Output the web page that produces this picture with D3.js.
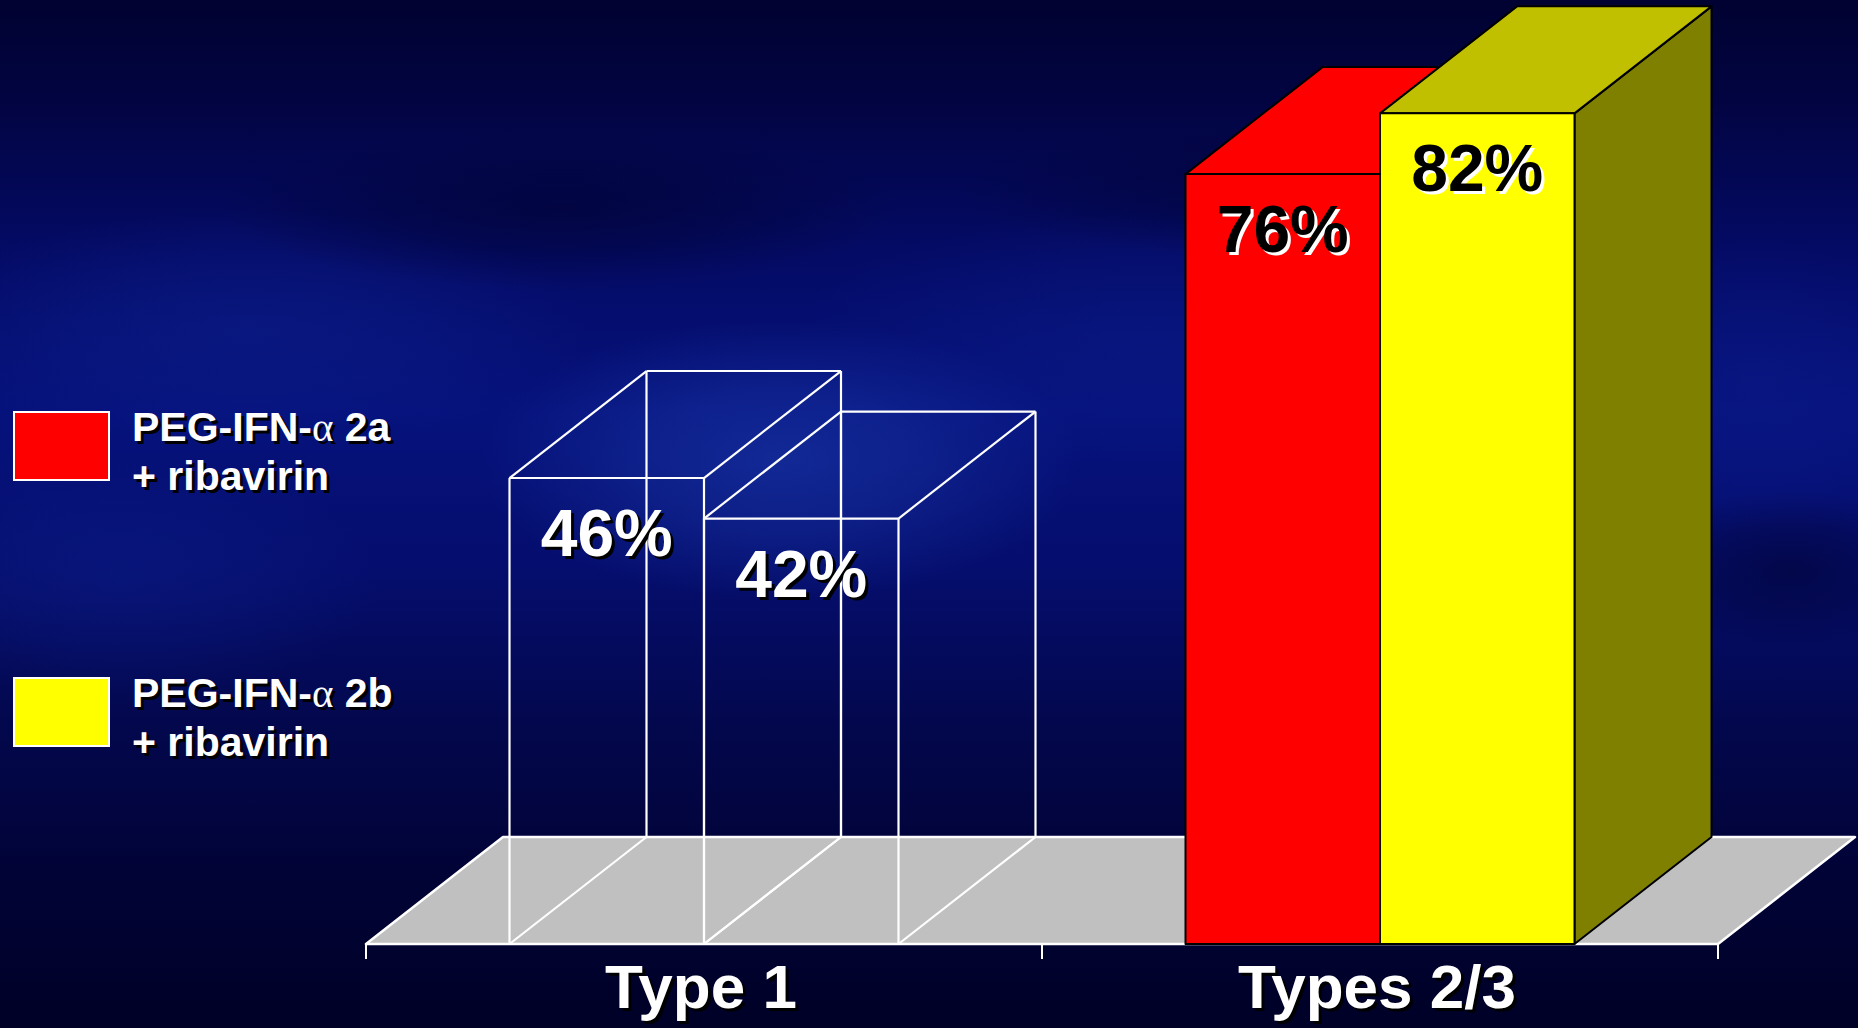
<!DOCTYPE html>
<html>
<head>
<meta charset="utf-8">
<script src="https://cdn.jsdelivr.net/npm/d3@7/dist/d3.min.js"></script>
<style>
html,body{margin:0;padding:0;background:#000030;overflow:hidden;}
svg{display:block;}
</style>
</head>
<body>
<svg id="chart" width="1858" height="1028"></svg>
<script>
// ---- data ----
const categories = ["Type 1", "Types 2/3"];
const seriesKeys = ["2a", "2b"];
const seriesLine1 = ["PEG-IFN-", "PEG-IFN-"];
const seriesGreek = ["\u03B1", "\u03B1"];
const seriesSuffix = [" 2a", " 2b"];
const seriesLine2 = ["+ ribavirin", "+ ribavirin"];
const values2a = [46, 76];
const values2b = [42, 82];
const seriesColors = ["#ff0000", "#ffff00"];
const seriesTopColors = ["#ff0000", "#c0c000"];
const seriesSideColors = ["#c00000", "#808000"];

// ---- layout ----
const W = 1858, H = 1028;
const svg = d3.select("#chart");
const FONT = "Arial, 'Liberation Sans', Helvetica, sans-serif";
const depthX = 137, depthY = 107;
const floorY = 944;

const x0 = d3.scaleBand().domain(categories).range([366, 1718]).paddingInner(0).paddingOuter(0);
const groupPad = 143.5;
const x1 = d3.scaleBand().domain(seriesKeys).range([groupPad, x0.bandwidth() - groupPad]).padding(0);
const y = d3.scaleLinear().domain([0, 100]).range([floorY, floorY - 1013]);

// ---- background ----
const defs = svg.append("defs");
const bg = defs.append("linearGradient").attr("id", "bg").attr("x1", 0).attr("y1", 0).attr("x2", 0).attr("y2", 1);
[[0, "#010231"], [0.1, "#020442"], [0.25, "#040b66"], [0.4, "#06127c"], [0.55, "#050e6e"], [0.7, "#03084e"], [0.85, "#010336"], [1, "#000127"]]
  .forEach(s => bg.append("stop").attr("offset", s[0]).attr("stop-color", s[1]));

svg.append("rect").attr("width", W).attr("height", H).attr("fill", "url(#bg)");
const cloudSpecs = [
  [780, 460, 300, 140, "#1c3cae", 0.55],
  [250, 330, 340, 120, "#0e2596", 0.4],
  [1150, 340, 360, 130, "#0c1f90", 0.4],
  [1760, 390, 200, 150, "#0c1c8c", 0.45],
  [120, 580, 260, 120, "#0e2290", 0.35],
  [560, 210, 340, 80, "#01022e", 0.55],
  [1300, 190, 340, 70, "#01022e", 0.45],
  [1790, 570, 170, 80, "#01022e", 0.55]
];
const clouds = svg.append("g");
cloudSpecs.forEach((c, i) => {
  const rg = defs.append("radialGradient").attr("id", "cl" + i);
  rg.append("stop").attr("offset", 0).attr("stop-color", c[4]).attr("stop-opacity", c[5]);
  rg.append("stop").attr("offset", 0.5).attr("stop-color", c[4]).attr("stop-opacity", c[5] * 0.6);
  rg.append("stop").attr("offset", 1).attr("stop-color", c[4]).attr("stop-opacity", 0);
  clouds.append("ellipse")
    .attr("cx", c[0]).attr("cy", c[1]).attr("rx", c[2]).attr("ry", c[3])
    .attr("fill", `url(#cl${i})`);
});

// ---- floor ----
const [fx0, fx1] = x0.range();
svg.append("path")
  .attr("d", `M${fx0},${floorY} L${fx1},${floorY} L${fx1 + depthX},${floorY - depthY} L${fx0 + depthX},${floorY - depthY} Z`)
  .attr("fill", "#c0c0c0").attr("stroke", "#ffffff").attr("stroke-width", 2.5).attr("stroke-linejoin", "round");

// ticks
const tickXs = [fx0].concat(categories.map(c => x0(c) + x0.bandwidth()));
svg.selectAll("line.tick").data(tickXs).enter().append("line")
  .attr("x1", d => d).attr("x2", d => d).attr("y1", floorY).attr("y2", floorY + 15)
  .attr("stroke", "#ffffff").attr("stroke-width", 2);

// ---- bars ----
const bars = [];
categories.forEach((c, ci) => {
  [values2a, values2b].forEach((vals, si) => {
    bars.push({cat: c, ci, si, value: vals[ci], x: x0(c) + x1(seriesKeys[si]), w: x1.bandwidth()});
  });
});

function faces(b) {
  const xl = b.x, xr = b.x + b.w, yt = y(b.value), yb = y(0);
  return {
    front: `M${xl},${yb} L${xl},${yt} L${xr},${yt} L${xr},${yb} Z`,
    top: `M${xl},${yt} L${xl + depthX},${yt - depthY} L${xr + depthX},${yt - depthY} L${xr},${yt} Z`,
    side: `M${xr},${yb} L${xr},${yt} L${xr + depthX},${yt - depthY} L${xr + depthX},${yb - depthY} Z`,
    xl, xr, yt, yb
  };
}

// wireframe bars (Type 1)
const wire = svg.append("g").attr("fill", "none").attr("stroke", "#ffffff").attr("stroke-width", 2.2).attr("stroke-linejoin", "round");
bars.filter(b => b.ci === 0).forEach(b => {
  const f = faces(b);
  const pts = [
    [[f.xl, f.yb], [f.xl, f.yt]], [[f.xr, f.yb], [f.xr, f.yt]], [[f.xl, f.yt], [f.xr, f.yt]], [[f.xl, f.yb], [f.xr, f.yb]],
    [[f.xl + depthX, f.yb - depthY], [f.xl + depthX, f.yt - depthY]],
    [[f.xr + depthX, f.yb - depthY], [f.xr + depthX, f.yt - depthY]],
    [[f.xl + depthX, f.yt - depthY], [f.xr + depthX, f.yt - depthY]],
    [[f.xl, f.yt], [f.xl + depthX, f.yt - depthY]], [[f.xr, f.yt], [f.xr + depthX, f.yt - depthY]],
    [[f.xl, f.yb], [f.xl + depthX, f.yb - depthY]], [[f.xr, f.yb], [f.xr + depthX, f.yb - depthY]]
  ];
  pts.forEach(p => wire.append("line").attr("x1", p[0][0]).attr("y1", p[0][1]).attr("x2", p[1][0]).attr("y2", p[1][1]));
});

// solid bars (Types 2/3)
const solid = svg.append("g").attr("stroke", "#000000").attr("stroke-width", 2).attr("stroke-linejoin", "round");
bars.filter(b => b.ci === 1).forEach(b => {
  const f = faces(b);
  solid.append("path").attr("d", f.side).attr("fill", seriesSideColors[b.si]);
  solid.append("path").attr("d", f.top).attr("fill", seriesTopColors[b.si]);
  solid.append("path").attr("d", f.front).attr("fill", seriesColors[b.si]);
});

// value labels
function shadowText(g, x, yy, txt, size, fill, shadow, anchor) {
  g.append("text").attr("x", x + 3).attr("y", yy + 3).text(txt)
    .attr("font-family", FONT).attr("font-weight", "bold").attr("font-size", size)
    .attr("text-anchor", anchor).attr("fill", shadow);
  g.append("text").attr("x", x).attr("y", yy).text(txt)
    .attr("font-family", FONT).attr("font-weight", "bold").attr("font-size", size)
    .attr("text-anchor", anchor).attr("fill", fill);
}
const labels = svg.append("g");
bars.forEach(b => {
  const f = faces(b);
  const solidBar = b.ci === 1;
  shadowText(labels, b.x + b.w / 2, f.yt + 78, b.value + "%", 66,
    solidBar ? "#000000" : "#ffffff", solidBar ? "#ffffff" : "#000000", "middle");
});

// category labels
const catG = svg.append("g");
categories.forEach(c => {
  shadowText(catG, x0(c) + x0.bandwidth() / 2 - 3, 1008, c, 62, "#ffffff", "#000000", "middle");
});

// ---- legend ----
const leg = svg.append("g");
seriesKeys.forEach((k, i) => {
  const top = 412 + i * 266;
  leg.append("rect").attr("x", 14).attr("y", top).attr("width", 95).attr("height", 68)
    .attr("fill", seriesColors[i]).attr("stroke", "#ffffff").attr("stroke-width", 2);
  [["#000000", 3], ["#ffffff", 0]].forEach(([col, off]) => {
    const t = leg.append("text").attr("x", 132 + off).attr("y", top + 29 + off)
      .attr("font-family", FONT).attr("font-weight", "bold").attr("font-size", 41).attr("fill", col);
    t.append("tspan").text(seriesLine1[i]);
    t.append("tspan").text(seriesGreek[i]).attr("font-family", "'Liberation Serif', 'Times New Roman', serif").attr("font-weight", "normal");
    t.append("tspan").text(seriesSuffix[i]);
    leg.append("text").attr("x", 132 + off).attr("y", top + 78 + off)
      .attr("font-family", FONT).attr("font-weight", "bold").attr("font-size", 41).attr("fill", col)
      .text(seriesLine2[i]);
  });
});
</script>
</body>
</html>
